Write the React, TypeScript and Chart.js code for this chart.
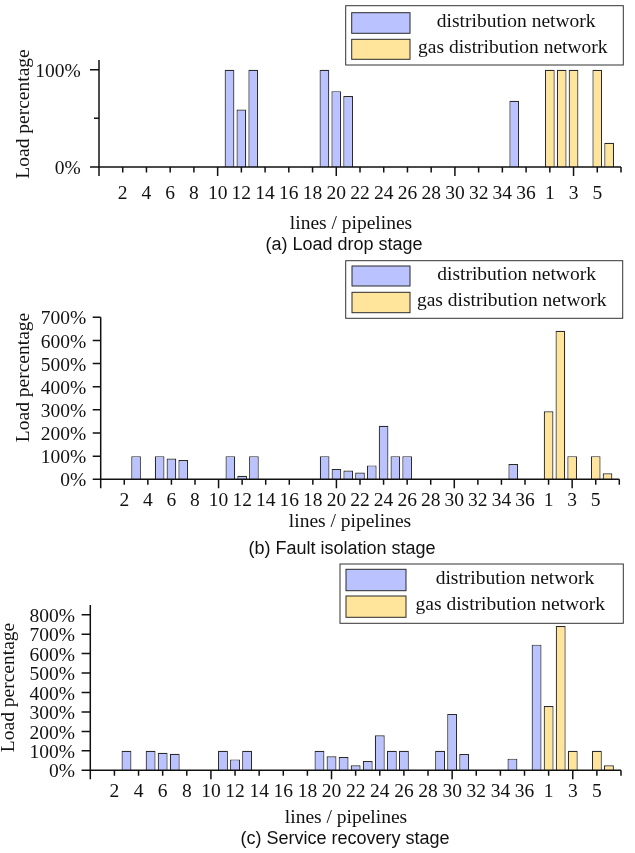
import React, { useEffect, useRef } from 'react';
import { Chart, registerables } from 'chart.js';

Chart.register(...registerables);

// ---------- categories ----------
const lineCategories = ['1','2','3','4','5','6','7','8','9','10','11','12','13','14','15','16','17','18','19','20','21','22','23','24','25','26','27','28','29','30','31','32','33','34','35','36','37'];
const gasCategories = ['1','2','3','4','5','6'];
const seriesNames = ['distribution network', 'gas distribution network'];

// ---------- values (Load percentage, %) ----------
// (a) Load drop stage
const lineLoadA = [0,0,0,0,0,0,0,0,0,0,100,59,100,0,0,0,0,0,100,78,73,0,0,0,0,0,0,0,0,0,0,0,0,0,68,0,0];
const gasLoadA = [100,100,100,0,100,25];
// (b) Fault isolation stage
const lineLoadB = [0,0,100,0,100,90,83,0,0,0,100,15,100,0,0,0,0,0,100,45,38,29,60,231,100,100,0,0,0,0,0,0,0,0,66,0,0];
const gasLoadB = [294,642,100,0,100,26];
// (c) Service recovery stage
const lineLoadC = [0,0,100,0,100,90,85,0,0,0,100,56,100,0,0,0,0,0,100,72,68,26,48,180,100,100,0,0,100,290,84,0,0,0,60,0,646];
const gasLoadC = [330,742,100,0,100,26];

// ---------- tick values / labels ----------
const yTicksA = [0, 50, 100];
const yTickLabelsA = ['0%', '', '100%'];
const yTicksB = [0, 100, 200, 300, 400, 500, 600, 700];
const yTickLabelsB = ['0%', '100%', '200%', '300%', '400%', '500%', '600%', '700%'];
const yTicksC = [0, 100, 200, 300, 400, 500, 600, 700, 800];
const yTickLabelsC = ['0%', '100%', '200%', '300%', '400%', '500%', '600%', '700%', '800%'];

const captions = ['(a) Load drop stage', '(b) Fault isolation stage', '(c) Service recovery stage'];
const xAxisTitle = 'lines / pipelines';
const yAxisTitle = 'Load percentage';

// axis positions: an empty slot at each end, lines 1..37, then pipelines 1..6
const tickTexts = ['', ...lineCategories, ...gasCategories, ''];
const chartLabels = ['', ...lineCategories.map((c) => 'line ' + c), ...gasCategories.map((c) => 'pipeline ' + c), ''];

const BLUE = '#BAC2FF';
const YELLOW = '#FFE49C';
const EDGE = '#2b2b2b';
const INK = '#111';
const SERIF = '"Liberation Serif", "Times New Roman", serif';
const SANS = '"Liberation Sans", Arial, sans-serif';

const nz = (v: number) => (v === 0 ? null : v);
const lineSeries = (vals: number[]) => [null, ...vals.map(nz), ...gasCategories.map(() => null), null];
const gasSeries = (vals: number[]) => [null, ...lineCategories.map(() => null), ...vals.map(nz), null];

type Panel = {
  top: number; height: number;
  left: number; right: number; chartTop: number; bottom: number; yMax: number;
  lines: number[]; gas: number[]; yTicks: number[]; yTickLabels: string[];
  yLabelRight: number; yTickLen: number; xTickBase: number;
  xTitleX: number; xTitleBase: number; capX: number; capBase: number; caption: string;
  yTitleX: number; yTitleY: number;
  legend: { x: number; y: number; w: number; h: number; sx: number; sw: number; s1y: number; s1h: number; s2y: number; s2h: number; t1x: number; t2x: number };
};

const panels: Panel[] = [
  {
    top: 0, height: 258, left: 99, right: 621, chartTop: 60, bottom: 167, yMax: 110,
    lines: lineLoadA, gas: gasLoadA, yTicks: yTicksA, yTickLabels: yTickLabelsA,
    yLabelRight: 80.7, yTickLen: 9, xTickBase: 198.7,
    xTitleX: 351, xTitleBase: 228.5, capX: 344, capBase: 249.6, caption: captions[0],
    yTitleX: 29, yTitleY: 114,
    legend: { x: 345.7, y: 5.7, w: 277.6, h: 59.3, sx: 351.7, sw: 58.3, s1y: 12.7, s1h: 20.6, s2y: 39.3, s2h: 20, t1x: 516.2, t2x: 512.8 },
  },
  {
    top: 258, height: 302, left: 100.7, right: 619.3, chartTop: 317.3, bottom: 479.3, yMax: 700,
    lines: lineLoadB, gas: gasLoadB, yTicks: yTicksB, yTickLabels: yTickLabelsB,
    yLabelRight: 86.2, yTickLen: 8, xTickBase: 506,
    xTitleX: 350, xTitleBase: 527, capX: 342, capBase: 553.5, caption: captions[1],
    yTitleX: 28.5, yTitleY: 377.5,
    legend: { x: 345.7, y: 260.7, w: 277, h: 57.6, sx: 352, sw: 58, s1y: 266, s1h: 20, s2y: 292.3, s2h: 20.4, t1x: 516.6, t2x: 511.7 },
  },
  {
    top: 560, height: 293, left: 90.3, right: 621, chartTop: 605, bottom: 770.3, yMax: 850,
    lines: lineLoadC, gas: gasLoadC, yTicks: yTicksC, yTickLabels: yTickLabelsC,
    yLabelRight: 75, yTickLen: 8.7, xTickBase: 797.3,
    xTitleX: 346, xTitleBase: 822.5, capX: 345, capBase: 843.5, caption: captions[2],
    yTitleX: 14, yTitleY: 687.5,
    legend: { x: 340, y: 564, w: 283.3, h: 59.3, sx: 346, sw: 60, s1y: 569.3, s1h: 21.4, s2y: 596, s2h: 21.3, t1x: 515, t2x: 510.3 },
  },
];

function makeDecor(p: Panel) {
  return {
    id: 'decor',
    afterDraw(chart: any) {
      const ctx: CanvasRenderingContext2D = chart.ctx;
      const xs = chart.scales.x;
      const ys = chart.scales.y;
      const T = p.top;
      const x0 = xs.getPixelForValue(0);
      const xEnd = xs.getPixelForValue(tickTexts.length - 1);
      const yZero = ys.getPixelForValue(0);
      const yTop = chart.chartArea.top;
      ctx.save();
      ctx.strokeStyle = INK;
      ctx.fillStyle = INK;
      ctx.lineWidth = 1.5;
      ctx.lineCap = 'butt';
      // axis lines
      ctx.beginPath();
      ctx.moveTo(x0, yTop);
      ctx.lineTo(x0, yZero);
      ctx.moveTo(x0 - 0.75, yZero);
      ctx.lineTo(xEnd, yZero);
      ctx.stroke();
      // x ticks + labels
      ctx.font = `19.5px ${SERIF}`;
      ctx.textAlign = 'center';
      ctx.textBaseline = 'alphabetic';
      ctx.beginPath();
      for (let i = 0; i < tickTexts.length; i += 2) {
        const x = xs.getPixelForValue(i);
        const len = i % 10 === 0 ? 9 : 5.5;
        ctx.moveTo(x, yZero);
        ctx.lineTo(x, yZero + len);
      }
      ctx.stroke();
      for (let i = 2; i < tickTexts.length - 1; i += 2) {
        const x = xs.getPixelForValue(i);
        ctx.fillText(tickTexts[i], x, p.xTickBase - T);
      }
      // y ticks + labels
      ctx.textAlign = 'right';
      ctx.textBaseline = 'middle';
      ctx.beginPath();
      p.yTicks.forEach((v, k) => {
        const y = ys.getPixelForValue(v);
        const len = p.yTickLabels[k] ? p.yTickLen : 5;
        ctx.moveTo(x0 - len, y);
        ctx.lineTo(x0, y);
      });
      ctx.stroke();
      p.yTicks.forEach((v, k) => {
        const y = ys.getPixelForValue(v);
        if (p.yTickLabels[k]) ctx.fillText(p.yTickLabels[k], p.yLabelRight, y + 2);
      });
      // y title
      ctx.save();
      ctx.translate(p.yTitleX, p.yTitleY - T);
      ctx.rotate(-Math.PI / 2);
      ctx.textAlign = 'center';
      ctx.textBaseline = 'alphabetic';
      ctx.fillText(yAxisTitle, 0, 0);
      ctx.restore();
      // x title
      ctx.textAlign = 'center';
      ctx.textBaseline = 'alphabetic';
      ctx.fillText(xAxisTitle, p.xTitleX, p.xTitleBase - T);
      // caption
      ctx.font = `18px ${SANS}`;
      ctx.fillText(p.caption, p.capX, p.capBase - T);
      // legend
      const L = p.legend;
      ctx.fillStyle = '#fff';
      ctx.fillRect(L.x, L.y - T, L.w, L.h);
      ctx.lineWidth = 1;
      ctx.strokeStyle = '#333';
      ctx.strokeRect(L.x, L.y - T, L.w, L.h);
      ctx.fillStyle = BLUE;
      ctx.fillRect(L.sx, L.s1y - T, L.sw, L.s1h);
      ctx.strokeStyle = EDGE;
      ctx.strokeRect(L.sx, L.s1y - T, L.sw, L.s1h);
      ctx.fillStyle = YELLOW;
      ctx.fillRect(L.sx, L.s2y - T, L.sw, L.s2h);
      ctx.strokeRect(L.sx, L.s2y - T, L.sw, L.s2h);
      ctx.fillStyle = INK;
      ctx.font = `19.5px ${SERIF}`;
      ctx.textAlign = 'center';
      ctx.textBaseline = 'middle';
      ctx.fillText(seriesNames[0], L.t1x, L.s1y + L.s1h / 2 - 1.5 - T);
      ctx.fillText(seriesNames[1], L.t2x, L.s2y + L.s2h / 2 - 1.5 - T);
      ctx.restore();
    },
  };
}

function PanelChart({ p }: { p: Panel }) {
  const ref = useRef<HTMLCanvasElement | null>(null);
  useEffect(() => {
    if (!ref.current) return;
    const chart = new Chart(ref.current, {
      type: 'bar',
      data: {
        labels: chartLabels,
        datasets: [
          {
            label: seriesNames[0],
            data: lineSeries(p.lines),
            backgroundColor: BLUE,
            borderColor: EDGE,
            borderWidth: 1.2,
            grouped: false,
            barPercentage: 0.82,
            categoryPercentage: 1,
          } as any,
          {
            label: seriesNames[1],
            data: gasSeries(p.gas),
            backgroundColor: YELLOW,
            borderColor: EDGE,
            borderWidth: 1.2,
            grouped: false,
            barPercentage: 0.82,
            categoryPercentage: 1,
          } as any,
        ],
      },
      options: {
        animation: false,
        responsive: false,
        maintainAspectRatio: false,
        devicePixelRatio: 1,
        layout: {
          padding: {
            left: p.left,
            right: 635 - p.right,
            top: p.chartTop - p.top,
            bottom: p.top + p.height - p.bottom,
          },
        },
        plugins: { legend: { display: false }, tooltip: { enabled: false }, title: { display: false } },
        scales: {
          x: { type: 'category', offset: false, display: false },
          y: { type: 'linear', min: 0, max: p.yMax, display: false },
        },
      },
      plugins: [makeDecor(p)],
    });
    return () => chart.destroy();
  }, [p]);
  return (
    <canvas
      ref={ref}
      width={635}
      height={p.height}
      style={{ position: 'absolute', left: 0, top: p.top, width: 635, height: p.height }}
    />
  );
}

export default function App() {
  return (
    <div style={{ position: 'absolute', left: 0, top: 0, width: 635, height: 853, background: '#fff' }}>
      {panels.map((p, i) => (
        <PanelChart key={i} p={p} />
      ))}
    </div>
  );
}
